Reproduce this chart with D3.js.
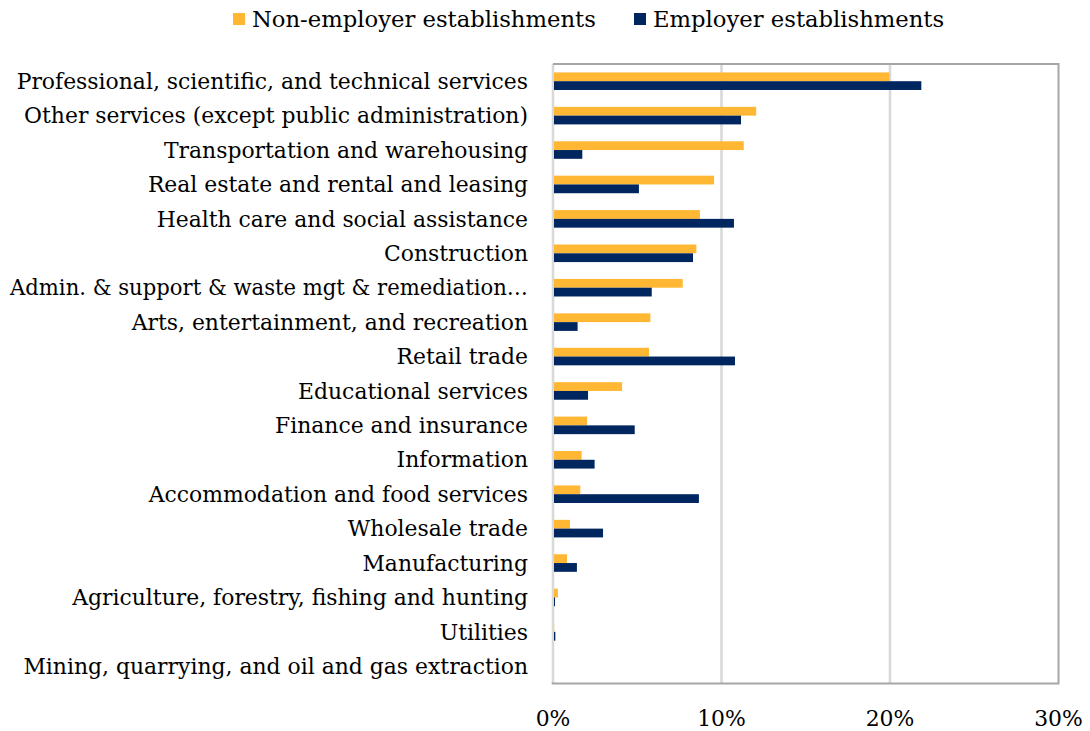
<!DOCTYPE html>
<html>
<head>
<meta charset="utf-8">
<script src="https://cdn.jsdelivr.net/npm/d3@7"></script>
<style>
  html, body { margin: 0; padding: 0; background: #fff; }
  svg { display: block; }
  text { font-family: "DejaVu Serif", "Liberation Serif", serif; fill: #000; }
</style>
</head>
<body>
<svg id="chart" width="1090" height="731"></svg>
<script>
// Industries, top to bottom
const industries = [
  "Professional, scientific, and technical services",
  "Other services (except public administration)",
  "Transportation and warehousing",
  "Real estate and rental and leasing",
  "Health care and social assistance",
  "Construction",
  "Admin. & support & waste mgt & remediation\u2026",
  "Arts, entertainment, and recreation",
  "Retail trade",
  "Educational services",
  "Finance and insurance",
  "Information",
  "Accommodation and food services",
  "Wholesale trade",
  "Manufacturing",
  "Agriculture, forestry, fishing and hunting",
  "Utilities",
  "Mining, quarrying, and oil and gas extraction"
];

// Share of establishments by industry (%)
const nonEmployer = [19.9, 12.0, 11.26, 9.5, 8.66, 8.45, 7.64, 5.72, 5.64, 4.04, 1.96, 1.64, 1.56, 0.95, 0.77, 0.23, 0.01, 0.0];
const employer    = [21.8, 11.1, 1.68, 5.04, 10.68, 8.25, 5.8, 1.4, 10.74, 2.02, 4.79, 2.41, 8.6, 2.91, 1.36, 0.06, 0.08, 0.0];

const seriesNames = ["Non-employer establishments", "Employer establishments"];
const seriesColors = ["#FFB734", "#002660"];
const xTicks = [0, 10, 20, 30];
const xTickLabels = ["0%", "10%", "20%", "30%"];

const svg = d3.select("#chart");
const plot = { left: 553, right: 1058.5, top: 64, bottom: 683.5 };

const x = d3.scaleLinear().domain([0, 30]).range([plot.left, plot.right]);
const y = d3.scaleBand().domain(industries).range([plot.top, plot.bottom]).paddingInner(0.49).paddingOuter(0.245);
const ySub = d3.scaleBand().domain([0, 1]).range([0, y.bandwidth()]);

// Gridlines
svg.append("g").selectAll("line").data(xTicks.slice(0, 3)).join("line")
  .attr("x1", d => x(d)).attr("x2", d => x(d))
  .attr("y1", plot.top).attr("y2", plot.bottom)
  .attr("stroke", "#d9d9d9").attr("stroke-width", 2.6);

// Frame: top, right, bottom
svg.append("path")
  .attr("d", `M${plot.left},${plot.top}H${plot.right}V${plot.bottom}H${plot.left - 1.3}`)
  .attr("fill", "none").attr("stroke", "#a6a6a6").attr("stroke-width", 2);

// Bars
const series = [nonEmployer, employer];
series.forEach((vals, si) => {
  svg.append("g").selectAll("rect").data(vals).join("rect")
    .attr("x", x(0) + 1)
    .attr("y", (d, i) => y(industries[i]) + ySub(si))
    .attr("width", d => Math.max(0, x(d) - x(0)))
    .attr("height", ySub.bandwidth())
    .attr("fill", seriesColors[si]);
});

// Category labels (long ones are squeezed to stay inside the left margin)
const fontSize = 21.9;
const labelRight = 528, labelMaxWidth = 518;
svg.append("g").selectAll("text").data(industries).join("text")
  .attr("x", labelRight)
  .attr("y", d => y(d) + y.bandwidth() / 2)
  .attr("dy", "0.35em")
  .attr("text-anchor", "end")
  .style("font-size", fontSize + "px")
  .text(d => d)
  .each(function () {
    if (this.getComputedTextLength() > labelMaxWidth) {
      d3.select(this).attr("textLength", labelMaxWidth).attr("lengthAdjust", "spacingAndGlyphs");
    }
  });

// X axis tick labels
svg.append("g").selectAll("text").data(xTicks).join("text")
  .attr("x", d => x(d))
  .attr("y", 718)
  .attr("dy", "0.35em")
  .attr("text-anchor", "middle")
  .style("font-size", fontSize + "px")
  .text((d, i) => xTickLabels[i]);

// Legend
const legendX = [233, 634];
seriesNames.forEach((name, i) => {
  const g = svg.append("g").attr("transform", `translate(${legendX[i]},19)`);
  g.append("rect").attr("x", 0).attr("y", -6).attr("width", 12).attr("height", 12).attr("fill", seriesColors[i]);
  g.append("text").attr("x", 19).attr("dy", "0.35em").style("font-size", "22.7px").text(name);
});
</script>
</body>
</html>
